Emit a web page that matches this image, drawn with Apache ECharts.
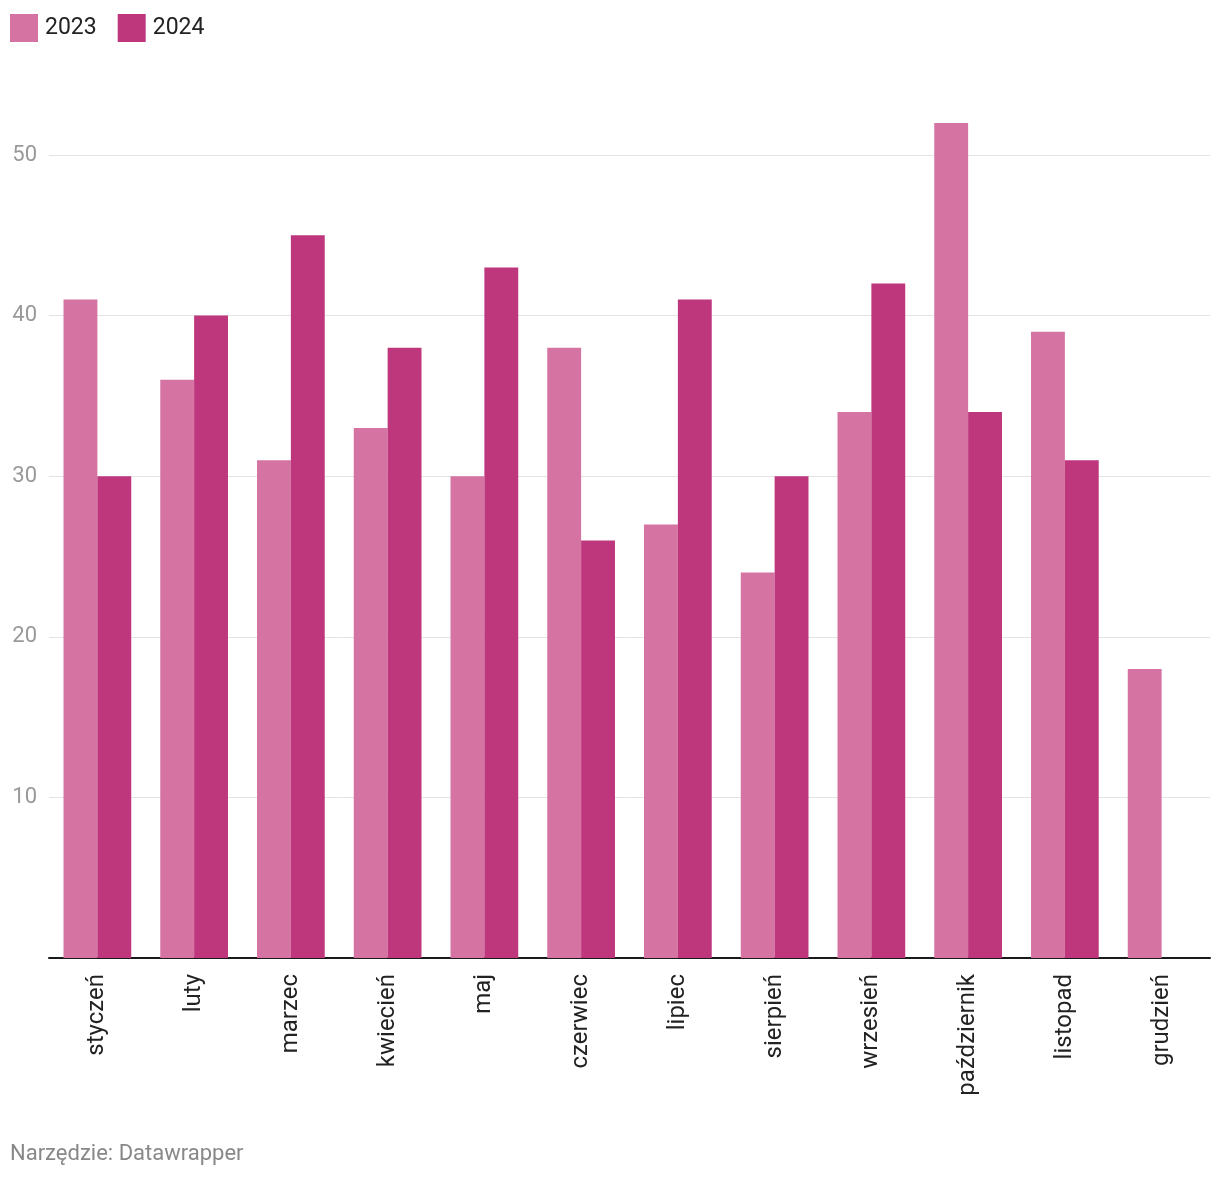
<!DOCTYPE html>
<html>
<head>
<meta charset="utf-8">
<script src="https://cdn.jsdelivr.net/npm/echarts@6/dist/echarts.min.js"></script>
<style>
html,body{margin:0;padding:0;background:#fff;}
#c{width:1220px;height:1178px;}
</style>
</head>
<body>
<div id="c"></div>
<script>
const categories = ['styczeń','luty','marzec','kwiecień','maj','czerwiec','lipiec','sierpień','wrzesień','październik','listopad','grudzień'];
const values2023 = [41, 36, 31, 33, 30, 38, 27, 24, 34, 52, 39, 18];
const values2024 = [30, 40, 45, 38, 43, 26, 41, 30, 42, 34, 31, null];
const seriesNames = ['2023', '2024'];

const chart = echarts.init(document.getElementById('c'));
chart.setOption({
  animation: false,
  textStyle: { fontFamily: 'Roboto' },
  legend: {
    left: 5, top: 9, icon: 'rect', itemWidth: 28, itemHeight: 28, itemGap: 21,
    textStyle: { fontSize: 23, color: '#222', fontFamily: 'Roboto', padding: [0, 0, 0, 2] },
    data: seriesNames
  },
  graphic: [{
    type: 'text', left: 10, top: 1143,
    style: { text: 'Narzędzie: Datawrapper', fontSize: 22, fill: '#888', fontFamily: 'Roboto' }
  }],
  grid: { left: 49, right: 10, top: 155, bottom: 220, containLabel: false },
  xAxis: {
    type: 'category', data: categories,
    axisLine: { show: true, lineStyle: { color: '#1a1a1a', width: 2 } },
    axisTick: { show: false },
    axisLabel: { rotate: 90, fontSize: 24, color: '#222', margin: 16, fontFamily: 'Roboto', interval: 0 }
  },
  yAxis: {
    type: 'value', min: 0, max: 50, interval: 10,
    axisLine: { show: false }, axisTick: { show: false },
    axisLabel: { fontSize: 22, color: '#999', margin: 12, fontFamily: 'Roboto',
      formatter: v => v === 0 ? '' : String(v) },
    splitLine: { lineStyle: { color: '#e3e3e3', width: 1 } }
  },
  series: [
    { name: seriesNames[0], type: 'bar', data: values2023, barGap: '0%', barCategoryGap: '30%', clip: false,
      itemStyle: { color: '#d573a3' } },
    { name: seriesNames[1], type: 'bar', data: values2024, barGap: '0%', barCategoryGap: '30%', clip: false,
      itemStyle: { color: '#be367c' } }
  ]
});
</script>
</body>
</html>
